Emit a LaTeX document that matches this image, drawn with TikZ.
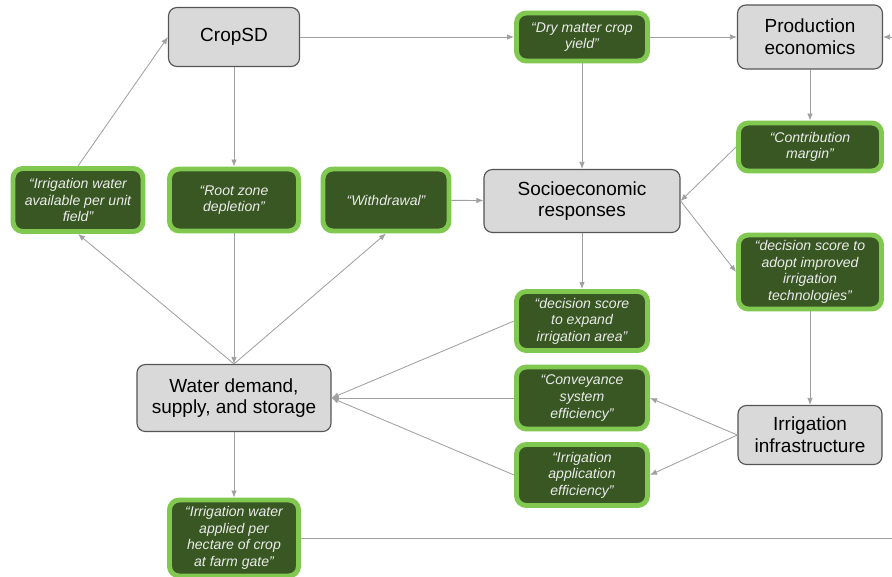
\documentclass[tikz,border=0pt]{standalone}
\usepackage{fontspec}
\setmainfont{Liberation Sans}
\usetikzlibrary{arrows.meta}
\definecolor{boxgray}{RGB}{217,217,217}
\definecolor{edgegray}{RGB}{85,85,85}
\definecolor{linegray}{RGB}{160,160,160}
\definecolor{leaf}{RGB}{56,87,35}
\definecolor{lime}{RGB}{128,200,80}
\begin{document}
\begin{tikzpicture}[x=0.025cm,y=-0.025cm,
    sector/.style={draw=edgegray,fill=boxgray,rounded corners=6pt,line width=0.8pt,
      inner sep=0pt,align=center,font=\fontsize{13.5}{15.5}\selectfont},
    signal/.style={draw=lime,fill=leaf,rounded corners=7pt,line width=3.5pt,text=white!92!black,
      inner sep=0pt,align=center,font=\fontsize{10}{11.8}\selectfont\itshape},
    arr/.style={draw=linegray,line width=0.6pt,-{Latex[length=5pt,width=4pt]}}]
    \useasboundingbox (0,0) rectangle (892,577);
    \node[sector,minimum width=3.275cm,minimum height=1.475cm] (cropsd) at (234,37) {CropSD};
    \node[sector,minimum width=3.625cm,minimum height=1.6cm] (prod) at (810,37) {Production\\economics};
    \node[sector,minimum width=4.9cm,minimum height=1.575cm] (socio) at (582,201) {Socioeconomic\\responses};
    \node[sector,minimum width=4.85cm,minimum height=1.675cm] (water) at (234,398) {Water demand,\\supply, and storage};
    \node[sector,minimum width=3.6cm,minimum height=1.475cm] (infra) at (810,435) {Irrigation\\infrastructure};
    \node[signal,minimum width=3.275cm,minimum height=1.2cm] (yield) at (582,37) {“Dry matter crop\\yield”};
    \node[signal,minimum width=3.575cm,minimum height=1.2cm] (margin) at (810,147) {“Contribution\\margin”};
    \node[signal,minimum width=3.25cm,minimum height=1.575cm] (avail) at (78,200) {“Irrigation water\\available per unit\\field”};
    \node[signal,minimum width=3.225cm,minimum height=1.55cm] (root) at (234,200) {“Root zone\\depletion”};
    \node[signal,minimum width=3.15cm,minimum height=1.55cm] (withdraw) at (386,200) {“Withdrawal”};
    \node[signal,minimum width=3.575cm,minimum height=1.85cm] (adopt) at (810,272) {“decision score to\\adopt improved\\irrigation\\technologies”};
    \node[signal,minimum width=3.275cm,minimum height=1.475cm] (expand) at (582,321) {“decision score\\to expand\\irrigation area”};
    \node[signal,minimum width=3.275cm,minimum height=1.55cm] (convey) at (582,398) {“Conveyance\\system\\efficiency”};
    \node[signal,minimum width=3.275cm,minimum height=1.525cm] (apply) at (582,475) {“Irrigation\\application\\efficiency”};
    \node[signal,minimum width=3.225cm,minimum height=1.9cm] (applied) at (234,538) {“Irrigation water\\applied per\\hectare of crop\\at farm gate”};
    \coordinate (offright) at (892,538);
    \coordinate (fromright) at (892,37);
    \draw[arr] (cropsd) -- (yield);
    \draw[arr] (yield) -- (prod);
    \draw[arr] (yield) -- (socio);
    \draw[arr] (prod) -- (margin);
    \draw[arr] (margin.west) -- (socio.east);
    \draw[arr] (socio.east) -- (adopt.west);
    \draw[arr] (socio) -- (expand);
    \draw[arr] (adopt) -- (infra);
    \draw[arr] (infra.west) -- (convey.east);
    \draw[arr] (infra.west) -- (apply.east);
    \draw[arr] (expand.west) -- (water.east);
    \draw[arr] (convey.west) -- (water.east);
    \draw[arr] (apply.west) -- (water.east);
    \draw[arr] (cropsd) -- (root);
    \draw[arr] (root) -- (water);
    \draw[arr] (water.north) -- (avail.south);
    \draw[arr] (water.north) -- (withdraw.south);
    \draw[arr] (avail.north) -- (cropsd.west);
    \draw[arr] (withdraw) -- (socio);
    \draw[arr] (water) -- (applied);
    \draw[draw=linegray,line width=0.6pt] (applied.east) -- (applied.east -| offright);
    \draw[arr] (fromright) -- (prod.east);
\end{tikzpicture}
\end{document}
